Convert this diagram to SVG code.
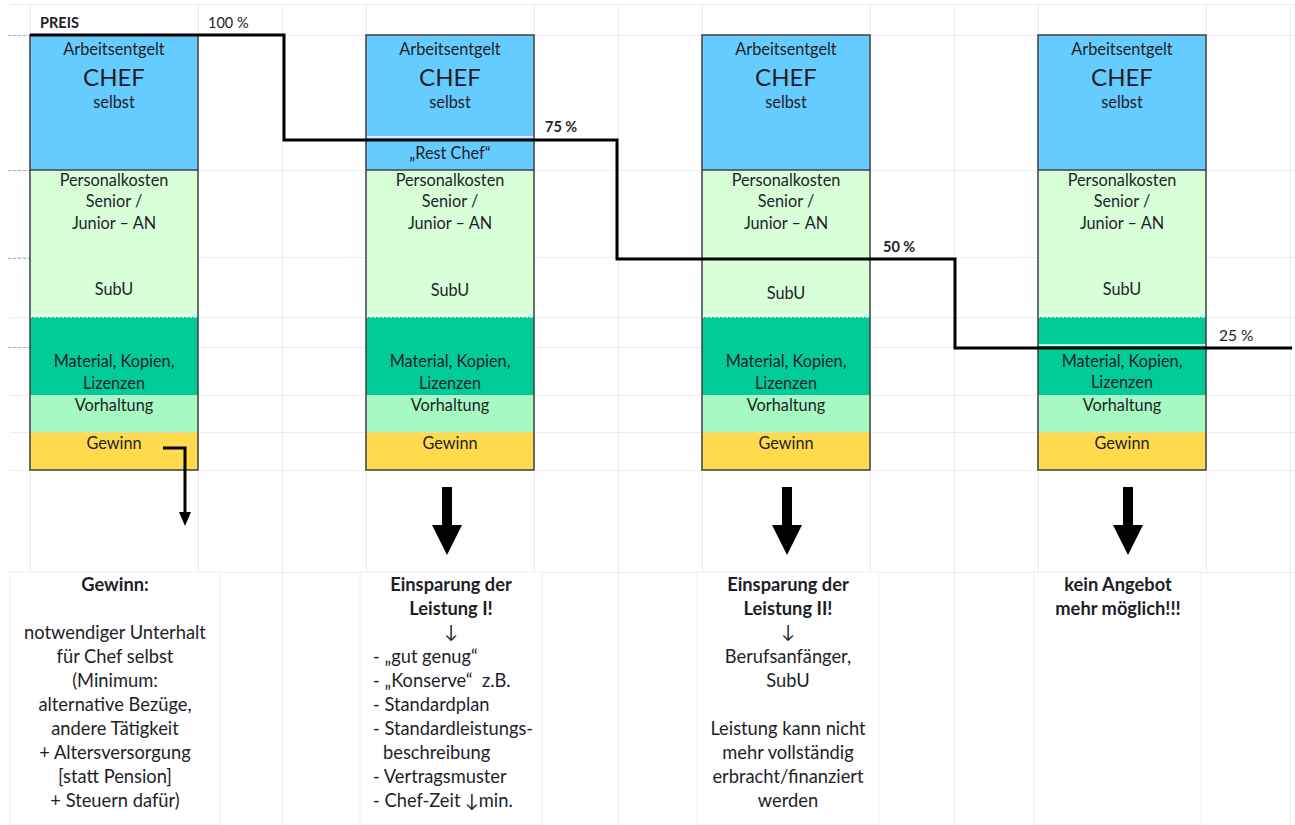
<svg xmlns="http://www.w3.org/2000/svg" xmlns:xlink="http://www.w3.org/1999/xlink" width="1295" height="825" viewBox="0 0 1295 825">
<style>
  text { font-family: Lato, "Open Sans", "Liberation Sans", sans-serif; fill: #1e1e28; }
  .t { font-size: 16.3px; text-anchor: middle; }
  .chef { font-size: 24px; text-anchor: middle; }
  .b { font-weight: bold; }
  .lbl { font-size: 14.5px; }
  .bt { font-size: 18.3px; text-anchor: middle; }
  .bl { font-size: 18.3px; }
  .grid { stroke: #ececec; stroke-width: 1; fill: none; }
  .blue { fill: #66ccff; }
  .green { fill: #d9ffd9; }
  .teal { fill: #00cc99; }
  .mint { fill: #a6f9c1; }
  .yellow { fill: #ffda4d; }
  .sep { stroke: #c9def2; stroke-width: 1; stroke-dasharray: 2 2; }
  .solid { stroke: #404040; stroke-width: 1.5; }
  .outline { fill: none; stroke: #404040; stroke-width: 1.5; }
  .mark { stroke: #8fb4e3; stroke-width: 1; stroke-dasharray: 3 2; }
  .tbox { fill: #ffffff; stroke: #f0f0f0; stroke-width: 1; }
  .step { fill: none; stroke: #000; stroke-width: 3; stroke-linejoin: miter; }
</style>
<defs>
  <path id="bigArrow" d="M-5,0 H5 V38 H15 L0,68 L-15,38 H-5 Z" fill="#000"/>
</defs>
<rect width="1295" height="825" fill="#ffffff"/>

<g id="grid">
  <path class="grid" d="M10,4.5 H1295 M10,35.5 H1295 M10,170.5 H1295 M10,257.5 H1295 M10,317.5 H1295 M10,347.5 H1295 M10,395.5 H1295 M10,432.5 H1295 M10,470.5 H1295 M10,572.5 H1295"/>
  <path class="grid" d="M30.5,4 V572 M198.5,4 V572 M282.5,4 V825 M366.5,4 V572 M534.5,4 V572 M618.5,4 V825 M702.5,4 V572 M870.5,4 V572 M954.5,4 V825 M1038.5,4 V572 M1206.5,4 V572 M1290.5,4 V825"/>
  <path class="mark" d="M8,35.5 H30 M8,170.5 H30 M8,258.5 H30 M8,347.5 H30"/>
</g>

<g id="col1">
  <rect class="blue" x="30" y="35" width="168" height="135"/>
  <rect class="green" x="30" y="170" width="168" height="147"/>
  <rect class="teal" x="30" y="317" width="168" height="78"/>
  <rect class="mint" x="30" y="395" width="168" height="37"/>
  <rect class="yellow" x="30" y="432" width="168" height="38"/>
  <path class="sep" d="M30,317.5 H198 M30,395.5 H198 M30,432.5 H198"/>
  <path class="solid" d="M30,170 H198"/>
  <rect class="outline" x="30" y="35" width="168" height="435"/>
  <text class="t" x="114" y="55">Arbeitsentgelt</text>
  <text class="chef" x="114" y="86">CHEF</text>
  <text class="t" x="114" y="108">selbst</text>
  <text class="t" x="114" y="186">Personalkosten</text>
  <text class="t" x="114" y="207">Senior /</text>
  <text class="t" x="114" y="229">Junior – AN</text>
  <text class="t" x="114" y="295">SubU</text>
  <text class="t" x="114" y="367">Material, Kopien,</text>
  <text class="t" x="114" y="389">Lizenzen</text>
  <text class="t" x="114" y="411">Vorhaltung</text>
  <text class="t" x="114" y="449">Gewinn</text>
</g>

<g id="col2">
  <rect class="blue" x="366" y="35" width="168" height="135"/>
  <rect class="green" x="366" y="170" width="168" height="147"/>
  <rect class="teal" x="366" y="317" width="168" height="78"/>
  <rect class="mint" x="366" y="395" width="168" height="37"/>
  <rect class="yellow" x="366" y="432" width="168" height="38"/>
  <path d="M366,137 H534" stroke="#ffffff" stroke-width="1.5"/>
  <path class="sep" d="M366,317.5 H534 M366,395.5 H534 M366,432.5 H534"/>
  <path class="solid" d="M366,170 H534"/>
  <rect class="outline" x="366" y="35" width="168" height="435"/>
  <text class="t" x="450" y="55">Arbeitsentgelt</text>
  <text class="chef" x="450" y="86">CHEF</text>
  <text class="t" x="450" y="108">selbst</text>
  <text class="t" x="450" y="159">„Rest Chef“</text>
  <text class="t" x="450" y="186">Personalkosten</text>
  <text class="t" x="450" y="207">Senior /</text>
  <text class="t" x="450" y="229">Junior – AN</text>
  <text class="t" x="450" y="296">SubU</text>
  <text class="t" x="450" y="367">Material, Kopien,</text>
  <text class="t" x="450" y="389">Lizenzen</text>
  <text class="t" x="450" y="411">Vorhaltung</text>
  <text class="t" x="450" y="449">Gewinn</text>
</g>

<g id="col3">
  <rect class="blue" x="702" y="35" width="168" height="135"/>
  <rect class="green" x="702" y="170" width="168" height="147"/>
  <rect class="teal" x="702" y="317" width="168" height="78"/>
  <rect class="mint" x="702" y="395" width="168" height="37"/>
  <rect class="yellow" x="702" y="432" width="168" height="38"/>
  <path class="sep" d="M702,317.5 H870 M702,395.5 H870 M702,432.5 H870"/>
  <path class="solid" d="M702,170 H870"/>
  <rect class="outline" x="702" y="35" width="168" height="435"/>
  <text class="t" x="786" y="55">Arbeitsentgelt</text>
  <text class="chef" x="786" y="86">CHEF</text>
  <text class="t" x="786" y="108">selbst</text>
  <text class="t" x="786" y="186">Personalkosten</text>
  <text class="t" x="786" y="207">Senior /</text>
  <text class="t" x="786" y="229">Junior – AN</text>
  <text class="t" x="786" y="299">SubU</text>
  <text class="t" x="786" y="367">Material, Kopien,</text>
  <text class="t" x="786" y="389">Lizenzen</text>
  <text class="t" x="786" y="411">Vorhaltung</text>
  <text class="t" x="786" y="449">Gewinn</text>
</g>

<g id="col4">
  <rect class="blue" x="1038" y="35" width="168" height="135"/>
  <rect class="green" x="1038" y="170" width="168" height="147"/>
  <rect class="teal" x="1038" y="317" width="168" height="78"/>
  <rect class="mint" x="1038" y="395" width="168" height="37"/>
  <rect class="yellow" x="1038" y="432" width="168" height="38"/>
  <path d="M1038,345 H1206" stroke="#ffffff" stroke-width="1.5"/>
  <path class="sep" d="M1038,317.5 H1206 M1038,395.5 H1206 M1038,432.5 H1206"/>
  <path class="solid" d="M1038,170 H1206"/>
  <rect class="outline" x="1038" y="35" width="168" height="435"/>
  <text class="t" x="1122" y="55">Arbeitsentgelt</text>
  <text class="chef" x="1122" y="86">CHEF</text>
  <text class="t" x="1122" y="108">selbst</text>
  <text class="t" x="1122" y="186">Personalkosten</text>
  <text class="t" x="1122" y="207">Senior /</text>
  <text class="t" x="1122" y="229">Junior – AN</text>
  <text class="t" x="1122" y="295">SubU</text>
  <text class="t" x="1122" y="367">Material, Kopien,</text>
  <text class="t" x="1122" y="388">Lizenzen</text>
  <text class="t" x="1122" y="411">Vorhaltung</text>
  <text class="t" x="1122" y="449">Gewinn</text>
</g>

<g id="labels">
  <text class="lbl b" x="40" y="28">PREIS</text>
  <text class="lbl" x="208" y="28">100 %</text>
  <text class="lbl b" x="545" y="132">75 %</text>
  <text class="lbl b" x="883" y="252">50 %</text>
  <text class="lbl" x="1219" y="341" style="font-size:15.5px">25 %</text>
</g>

<g id="connectors">
  <path class="step" d="M30,35 H284 V140 H617 V259 H955 V348 H1292"/>
  <path d="M163,448 H185 V513" fill="none" stroke="#000" stroke-width="3"/>
  <path d="M179,512 H191 L185,526 Z" fill="#000"/>
  <use xlink:href="#bigArrow" x="447" y="487"/>
  <use xlink:href="#bigArrow" x="787" y="487"/>
  <use xlink:href="#bigArrow" x="1128" y="487"/>
</g>

<g id="note1">
  <rect class="tbox" x="10" y="572" width="210" height="253"/>
  <text class="bt b" x="115" y="591">Gewinn:</text>
  <text class="bt" x="115" y="639">notwendiger Unterhalt</text>
  <text class="bt" x="115" y="663">für Chef selbst</text>
  <text class="bt" x="115" y="687">(Minimum:</text>
  <text class="bt" x="115" y="711">alternative Bezüge,</text>
  <text class="bt" x="115" y="735">andere Tätigkeit</text>
  <text class="bt" x="115" y="759">+ Altersversorgung</text>
  <text class="bt" x="115" y="783">[statt Pension]</text>
  <text class="bt" x="115" y="807">+ Steuern dafür)</text>
</g>

<g id="note2">
  <rect class="tbox" x="360" y="572" width="182" height="253"/>
  <text class="bt b" x="451" y="591">Einsparung der</text>
  <text class="bt b" x="451" y="615">Leistung I!</text>
  <text class="bt" x="451" y="638">↓</text>
  <text class="bl" x="373" y="663">- „gut genug“</text>
  <text class="bl" x="373" y="687">- „Konserve“&#160; z.B.</text>
  <text class="bl" x="373" y="711">- Standardplan</text>
  <text class="bl" x="373" y="735">- Standardleistungs-</text>
  <text class="bl" x="383" y="759">beschreibung</text>
  <text class="bl" x="373" y="783">- Vertragsmuster</text>
  <text class="bl" x="373" y="807">- Chef-Zeit ↓min.</text>
</g>

<g id="note3">
  <rect class="tbox" x="697" y="572" width="182" height="253"/>
  <text class="bt b" x="788" y="591">Einsparung der</text>
  <text class="bt b" x="788" y="615">Leistung II!</text>
  <text class="bt" x="788" y="638">↓</text>
  <text class="bt" x="788" y="663">Berufsanfänger,</text>
  <text class="bt" x="788" y="687">SubU</text>
  <text class="bt" x="788" y="735">Leistung kann nicht</text>
  <text class="bt" x="788" y="759">mehr vollständig</text>
  <text class="bt" x="788" y="783">erbracht/finanziert</text>
  <text class="bt" x="788" y="807">werden</text>
</g>

<g id="note4">
  <rect class="tbox" x="1034" y="572" width="167" height="253"/>
  <text class="bt b" x="1118" y="591">kein Angebot</text>
  <text class="bt b" x="1118" y="615">mehr möglich!!!</text>
</g>
</svg>
